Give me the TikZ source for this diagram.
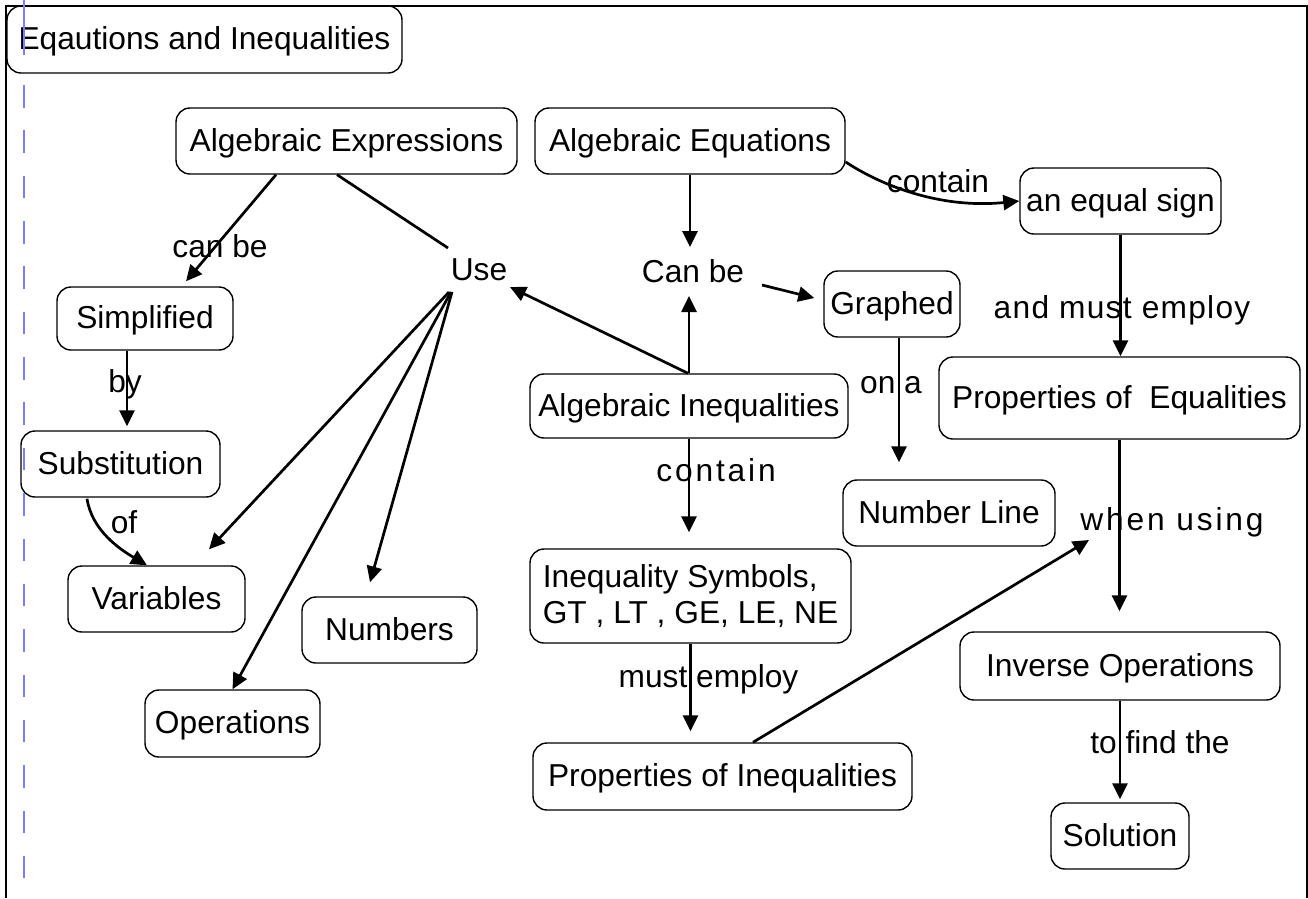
\documentclass[tikz,border=0pt]{standalone}
\usepackage{fontspec}
\setmainfont{Liberation Sans}
\newfontfamily\spacedfont[LetterSpace=9]{Liberation Sans}
\newfontfamily\widefont[LetterSpace=4]{Liberation Sans}
\usetikzlibrary{arrows.meta,calc}
\definecolor{dashblue}{RGB}{125,125,255}
\begin{document}
\begin{tikzpicture}[x=1pt,y=-1pt,
  every node/.style={font=\fontsize{31.7}{36}\selectfont, inner sep=0pt, text height=26pt, text depth=6pt},
  box/.style={draw, rounded corners=14pt, line width=1.4pt},
  spaced/.style={font=\fontsize{31.7}{36}\spacedfont},
  wide/.style={font=\fontsize{31.7}{36}\widefont},
  conn/.style={line width=2.7pt, -{Triangle[length=16pt,width=15pt]}},
  plainline/.style={line width=2.7pt},
  frameline/.style={line width=2pt},
  guide/.style={draw=dashblue, line width=2.2pt}
]
\useasboundingbox (0,0) rectangle (1308,898);
\draw[frameline] (6,898) -- (6,6) -- (1307,6) -- (1307,898);

% boxes
\node[box, minimum width=395pt, minimum height=67pt] (title) at (204.5,39.5) {Eqautions and Inequalities};
\node[box, minimum width=341pt, minimum height=66pt] (ae) at (346.5,141) {Algebraic Expressions};
\node[box, minimum width=310pt, minimum height=66pt] (aeq) at (690,141) {Algebraic Equations};
\node[box, minimum width=201pt, minimum height=66pt] (eq) at (1120.5,201) {an equal sign};
\node[box, minimum width=176pt, minimum height=63pt] (simp) at (145,318.5) {Simplified};
\node[box, minimum width=136pt, minimum height=66pt] (graphed) at (892,304) {Graphed};
\node[box, minimum width=318pt, minimum height=64pt] (ai) at (689,406) {Algebraic Inequalities};
\node[box, minimum width=361pt, minimum height=82pt] (pe) at (1119.5,398) {Properties of\ \ Equalities};
\node[box, minimum width=199pt, minimum height=66pt] (sub) at (120.5,464) {Substitution};
\node[box, minimum width=177pt, minimum height=66pt] (var) at (156.5,599) {Variables};
\node[box, minimum width=212pt, minimum height=66pt] (nl) at (949,513) {Number Line};
\node[box, minimum width=321pt, minimum height=94pt, align=left, text height={}, text depth={}] (ineq) at (690.5,596) {Inequality Symbols,\\GT , LT , GE, LE, NE};
\node[box, minimum width=175pt, minimum height=66pt] (num) at (389.5,630) {Numbers};
\node[box, minimum width=320pt, minimum height=68pt] (io) at (1120,666) {Inverse Operations};
\node[box, minimum width=175pt, minimum height=67pt] (ops) at (232.5,723.5) {Operations};
\node[box, minimum width=379pt, minimum height=67pt] (pi) at (722.5,776.5) {Properties of Inequalities};
\node[box, minimum width=138pt, minimum height=66pt] (sol) at (1120,836) {Solution};

% plain labels
\node (use) at (479,270) {Use};
\node (canbe) at (693,272) {Can be};
\node (lcanbe) at (220,247) {can be};
\node (lcontaina) at (938,182) {contain};
\node (lof) at (124,523) {of};
\node (ltofind) at (1160,743) {to find the};
\node[spaced] (lwhen) at (1172,520) {when using};
\node (lmust) at (708.5,677) {must employ};
\node[spaced] (lcontainb) at (716,471) {contain};
\node (lona) at (891,383) {on a};
\node (lby) at (125,382) {by};
\node[wide] (landmust) at (1122,308) {and must employ};

% connectors
\draw[conn] ($(ae.south)+(-70.5,0)$) -- ($(simp.north)+(41,-5)$);
\draw[plainline] ($(ae.south)+(-9.5,0)$) -- ($(use.center)+(-31,-22)$);
\draw[conn] (aeq.south) -- ($(canbe.center)+(-3,-25)$);
\draw[conn] (ai.north) -- ($(canbe.center)+(-4,24)$);
\draw[conn] ($(canbe.center)+(69,13)$) -- ($(graphed.west)+(-9,-6)$);
\draw[conn] ($(ai.north)+(-1,0)$) -- ($(use.center)+(31,17)$);
\draw[conn] ($(use.center)+(-30,22)$) -- ($(var.north)+(52.5,-16)$);
\draw[conn] ($(use.center)+(-28,22)$) -- (ops.north);
\draw[conn] ($(use.center)+(-27,22)$) -- ($(num.north)+(-19.5,-14)$);
\draw[conn] ($(aeq.east)+(0,21)$) .. controls +(35,23) and +(-80,8) .. (eq.west);
\draw[conn] (eq.south) -- (eq.south |- pe.north);
\draw[conn] ($(graphed.south)+(7,0)$) -- ($(nl.north)+(-50,-17)$);
\draw[conn] ($(simp.south)+(-18,0)$) -- ($(sub.north)+(6.5,-4)$);
\draw[conn] ($(sub.south)+(-33.5,1)$) .. controls +(5,32) and +(-27,-16) .. ($(var.north)+(-9.5,0)$);
\draw[conn] (ai.south) -- ($(ineq.north)+(-1.5,-16)$);
\draw[conn] (ineq.south) -- ($(pi.north)+(-32,-11)$);
\draw[conn] ($(pi.north)+(30.5,0)$) -- ($(lwhen.center)+(-83,20)$);
\draw[conn] (pe.south) -- ($(io.north)+(-0.5,-20)$);
\draw[conn] (io.south) -- ($(sol.north)+(0,-3)$);

% blue guide
\draw[guide] (23.7,0) -- (23.7,55);
\draw[guide, dash pattern=on 22.5pt off 22.85pt] (23.7,85) -- (23.7,898);
\end{tikzpicture}
\end{document}
